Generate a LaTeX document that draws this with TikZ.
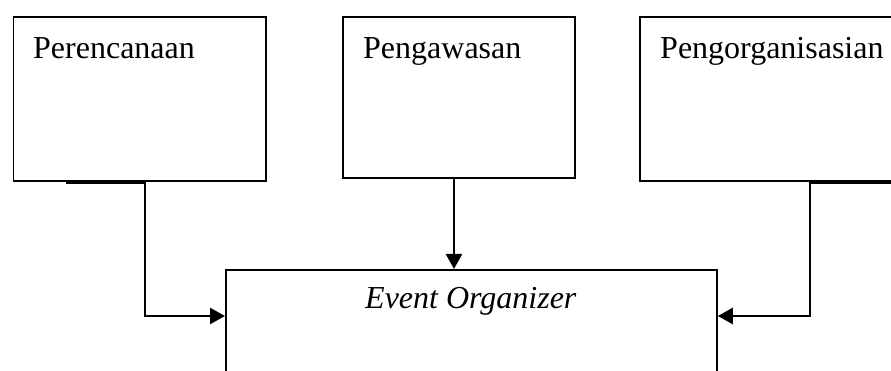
\documentclass[tikz,border=0pt]{standalone}
\usepackage{fontspec}
\setmainfont{Liberation Serif}
\usetikzlibrary{arrows.meta,calc}
\tikzset{
  box/.style={draw, line width=1.8pt, minimum width=#1, inner sep=0pt, anchor=north west},
  lbl/.style={inner sep=0pt, anchor=base west, font=\fontsize{32}{38}\selectfont},
  conn/.style={line width=2.4pt, -{Triangle[length=15pt,width=16pt]}}
}
\begin{document}
\begin{tikzpicture}[x=1pt,y=-1pt]
\useasboundingbox (0,0) rectangle (891,371);
% upper boxes
\node[box=252.5pt, minimum height=163.5pt] (pr) at (12.5,16.5) {};
\node[box=232pt, minimum height=160.5pt] (pw) at (342,16.5) {};
\node[box=270pt, minimum height=163.5pt] (po) at (639,16.5) {};
% lower box, running past the bottom edge
\node[box=491pt, minimum height=130pt] (eo) at (225,269) {};
% labels
\node[lbl] (tpr) at (33,59) {Perencanaan};
\node[lbl] (tpw) at (363,59) {Pengawasan};
\node[lbl] (tpo) at (660,59) {Pengorganisasian};
\node[lbl] (teo) at (365,308) {\itshape Event Organizer};
% connectors
\coordinate (a1) at ($(pr.south west)+(53.5,1)$);
\coordinate (a2) at ($(pr.south west)+(132.5,1)$);
\coordinate (c1) at ($(po.south west)+(265,1)$);
\coordinate (c2) at ($(po.south west)+(171,1)$);
\draw[conn] (a1) -- (a2) |- ($(eo.north west)+(0,47)$);
\draw[conn] (pw.south -| 454,0) -- (eo.north -| 454,0);
\draw[conn] (c1) -- (c2) |- ($(eo.north east)+(0,47)$);
\end{tikzpicture}
\end{document}
